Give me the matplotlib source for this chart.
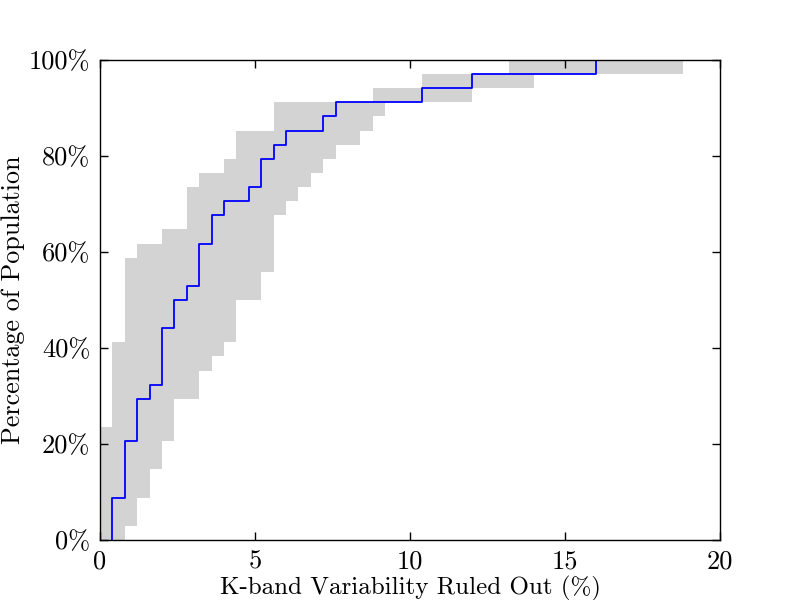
import numpy as np
import matplotlib
matplotlib.use("Agg")
import matplotlib.pyplot as plt
from matplotlib.ticker import FuncFormatter

# ---- data ----
# K-band variability ruled out (%), unique values and number of objects at each
ruled_out_values = [0.4, 0.8, 1.2, 1.6, 2.0, 2.4, 2.8, 3.2, 3.6, 4.0,
                    4.8, 5.2, 5.6, 6.0, 7.2, 7.6, 10.4, 12.0, 16.0]
ruled_out_counts = [3, 4, 3, 1, 4, 2, 1, 3, 2, 1,
                    1, 2, 1, 1, 1, 1, 1, 1, 1]

# grey uncertainty envelope: left / right bound for each rank (34 objects)
lower_bound = [0.0] * 8 + [0.4] * 6 + [0.8] * 6 + [1.2, 2.0] + [2.8] * 3 + \
              [3.2, 4.0] + [4.4] * 2 + [5.6] * 2 + [8.8, 10.4, 13.2]
upper_bound = [0.8] + [1.2] * 2 + [1.6] * 2 + [2.0] * 2 + [2.4] * 3 + \
              [3.2] * 2 + [3.6, 4.0] + [4.4] * 3 + [5.2] * 2 + [5.6] * 4 + \
              [6.0, 6.4, 6.8, 7.2, 7.6, 8.4, 8.8, 9.2, 12.0, 14.0, 18.8]

x_ticks = [0, 5, 10, 15, 20]
y_ticks = [0, 20, 40, 60, 80, 100]

plt.rcParams['font.family'] = ['cmr10', 'DejaVu Serif']
plt.rcParams['font.size'] = 18
plt.rcParams['axes.unicode_minus'] = False

fig = plt.figure(figsize=(8, 6), dpi=100)
ax = fig.add_axes([0.125, 0.1, 0.775, 0.8])

n = len(lower_bound)
y_levels = np.arange(n + 1) / n * 100.0
lo = np.r_[lower_bound, lower_bound[-1]]
hi = np.r_[upper_bound, upper_bound[-1]]
ax.fill_betweenx(y_levels, lo, hi, step='post', color='lightgrey',
                 linewidth=0, zorder=1)

cum = np.cumsum(ruled_out_counts) / n * 100.0
xs = np.r_[ruled_out_values[0], ruled_out_values]
ys = np.r_[0.0, cum]
ax.step(xs, ys, where='post', color='#0000ff', linewidth=1.3, zorder=2)

ax.set_xlim(0, 20)
ax.set_ylim(0, 100)
ax.set_xticks(x_ticks)
ax.set_yticks(y_ticks)
ax.yaxis.set_major_formatter(FuncFormatter(lambda v, p: f"{int(v)}%"))
ax.xaxis.set_major_formatter(FuncFormatter(lambda v, p: f"{int(v)}"))
ax.tick_params(direction='in', top=True, right=True, length=6, width=1,
               labelsize=19, pad=7)
for s in ax.spines.values():
    s.set_linewidth(1.0)

ax.set_xlabel("K-band Variability Ruled Out (%)", fontsize=18, labelpad=2)
ax.set_ylabel("Percentage of Population", fontsize=18.8, labelpad=3)

fig.savefig("out.png", dpi=100, facecolor='white')
